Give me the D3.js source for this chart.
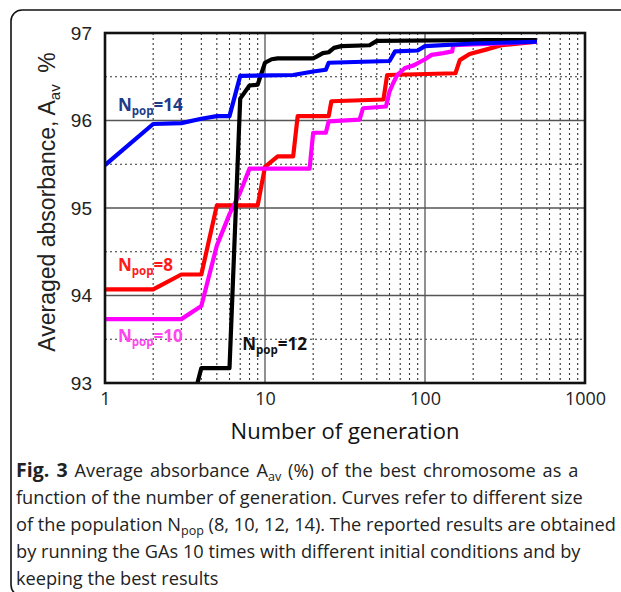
<!DOCTYPE html>
<html>
<head>
<meta charset="utf-8">
<script src="https://cdn.jsdelivr.net/npm/d3@7"></script>
<style>
  html, body { margin: 0; padding: 0; background: #fff; }
  svg { display: block; }
</style>
</head>
<body>
<svg id="chart" width="621" height="592"></svg>
<script>
// ---------------- data ----------------
const seriesNames = ["N8", "N10", "N12", "N14"];
const seriesColors = ["#ff0000", "#ff00ff", "#000000", "#0000ff"];

const genN8  = [1, 2, 3, 4, 5, 9, 10, 12, 15, 16, 25, 26, 55, 58, 155, 165, 190, 240, 300, 500];
const valN8  = [94.07, 94.07, 94.24, 94.24, 95.03, 95.03, 95.47, 95.59, 95.59, 96.05, 96.05, 96.22, 96.24, 96.52, 96.54, 96.69, 96.76, 96.81, 96.86, 96.90];

const genN10 = [1, 3, 4, 5, 6, 7, 8, 19, 20, 24, 25, 39, 41, 57, 60, 63, 67, 75, 85, 100, 110, 130, 148, 150, 200, 300, 500];
const valN10 = [93.73, 93.73, 93.88, 94.57, 94.93, 95.18, 95.45, 95.45, 95.86, 95.86, 95.99, 96.01, 96.14, 96.16, 96.33, 96.42, 96.52, 96.60, 96.63, 96.70, 96.75, 96.77, 96.79, 96.86, 96.87, 96.88, 96.90];

const genN12 = [3, 4, 6, 7, 8, 9, 10, 11, 12, 20, 21, 23, 25, 27, 30, 45, 50, 250, 500];
const valN12 = [92.30, 93.17, 93.17, 96.25, 96.40, 96.41, 96.66, 96.70, 96.71, 96.71, 96.73, 96.77, 96.78, 96.83, 96.85, 96.86, 96.91, 96.92, 96.92];

const genN14 = [1, 2, 3, 4, 5, 6, 7, 15, 20, 24, 25, 60, 65, 90, 100, 200, 500];
const valN14 = [95.49, 95.96, 95.97, 96.02, 96.05, 96.05, 96.51, 96.52, 96.56, 96.58, 96.66, 96.68, 96.79, 96.80, 96.85, 96.88, 96.90];

const xTickValues = [1, 10, 100, 1000];
const xTickLabels = ["1", "10", "100", "1000"];
const yTickValues = [93, 94, 95, 96, 97];
const yTickLabels = ["93", "94", "95", "96", "97"];
const xMinorGrid = [2,3,4,5,6,7,8,9,20,30,40,50,60,70,80,90,200,300,400,500,600,700,800,900];
const xMajorGrid = [10, 100];
const yMinorGrid = [93.5, 94.5, 95.5, 96.5];
const yMajorGrid = [94, 95, 96];

// in-plot labels: [prefix, subscript, suffix]
const labelText  = [["N", "pop", "=8"], ["N", "pop", "=10"], ["N", "pop", "=12"], ["N", "pop", "=14"]];
const labelColor = ["#ff1a1a", "#ff44f0", "#111111", "#1f3c88"];
const labelGen   = [1.205, 1.205, 7.2, 1.205];
const labelVal   = [94.28, 93.47, 93.38, 96.11];

const captionLines = [
  [["b", "Fig. 3"], ["r", " Average absorbance A"], ["s", "av"], ["r", " (%) of the best chromosome as a"]],
  [["r", "function of the number of generation. Curves refer to different size"]],
  [["r", "of the population N"], ["s", "pop"], ["r", " (8, 10, 12, 14). The reported results are obtained"]],
  [["r", "by running the GAs 10 times with different initial conditions and by"]],
  [["r", "keeping the best results"]]
];

// ---------------- layout ----------------
const svg = d3.select("#chart");
const L = 105, R = 585, T = 33, B = 383;

const x = d3.scaleLog().domain([1, 1000]).range([L, R]);
const y = d3.scaleLinear().domain([93, 97]).range([B, T]);

// frame
svg.append("rect")
  .attr("x", 11).attr("y", 10).attr("width", 700).attr("height", 586)
  .attr("rx", 11).attr("ry", 11)
  .attr("fill", "none").attr("stroke", "#111").attr("stroke-width", 1.6);

// clip
svg.append("defs").append("clipPath").attr("id", "plotclip")
  .append("rect").attr("x", L).attr("y", T).attr("width", R - L).attr("height", B - T);

const grid = svg.append("g");
grid.selectAll("line.xmin").data(xMinorGrid).join("line")
  .attr("x1", d => x(d)).attr("x2", d => x(d)).attr("y1", T).attr("y2", B)
  .attr("stroke", "#333").attr("stroke-width", 1.1).attr("stroke-dasharray", "2,3");
grid.selectAll("line.ymin").data(yMinorGrid).join("line")
  .attr("y1", d => y(d)).attr("y2", d => y(d)).attr("x1", L).attr("x2", R)
  .attr("stroke", "#333").attr("stroke-width", 1.1).attr("stroke-dasharray", "2,3");
grid.selectAll("line.xmaj").data(xMajorGrid).join("line")
  .attr("x1", d => x(d)).attr("x2", d => x(d)).attr("y1", T).attr("y2", B)
  .attr("stroke", "#555").attr("stroke-width", 1.3);
grid.selectAll("line.ymaj").data(yMajorGrid).join("line")
  .attr("y1", d => y(d)).attr("y2", d => y(d)).attr("x1", L).attr("x2", R)
  .attr("stroke", "#555").attr("stroke-width", 1.3);

// lines
const seriesGen = [genN8, genN10, genN12, genN14];
const seriesVal = [valN8, valN10, valN12, valN14];
const line = d3.line().x(d => x(d[0])).y(d => y(d[1]));
const lines = svg.append("g").attr("clip-path", "url(#plotclip)");
seriesNames.forEach((name, i) => {
  const pts = seriesGen[i].map((g, j) => [g, seriesVal[i][j]]);
  lines.append("path").datum(pts)
    .attr("d", line)
    .attr("fill", "none")
    .attr("stroke", seriesColors[i])
    .attr("stroke-width", 4.2)
    .attr("stroke-linejoin", "round");
});

// plot border
svg.append("rect").attr("x", L).attr("y", T).attr("width", R - L).attr("height", B - T)
  .attr("fill", "none").attr("stroke", "#111").attr("stroke-width", 2.6);

// axes (tick labels only)
const xAxis = d3.axisBottom(x).tickValues(xTickValues).tickFormat((d, i) => xTickLabels[i]).tickSize(0).tickPadding(6);
svg.append("g").attr("transform", `translate(0,${B + 3})`).call(xAxis)
  .call(g => g.select(".domain").remove())
  .selectAll("text").attr("font-family", "'Open Sans', sans-serif").attr("font-size", 18).attr("fill", "#222");

const yAxis = d3.axisLeft(y).tickValues(yTickValues).tickFormat((d, i) => yTickLabels[i]).tickSize(0).tickPadding(13);
svg.append("g").attr("transform", `translate(${L},0)`).call(yAxis)
  .call(g => g.select(".domain").remove())
  .selectAll("text").attr("font-family", "'Liberation Sans', Arial, sans-serif").attr("font-size", 19).attr("fill", "#222");

// axis titles
svg.append("text")
  .attr("x", (L + R) / 2).attr("y", 439)
  .attr("text-anchor", "middle")
  .attr("font-family", "'Open Sans', sans-serif").attr("font-size", 22).attr("fill", "#111")
  .text("Number of generation");

const yt = svg.append("text")
  .attr("transform", `translate(55, 202) rotate(-90)`)
  .attr("text-anchor", "middle")
  .attr("font-family", "'Liberation Sans', Arial, sans-serif").attr("font-size", 23).attr("fill", "#222");
yt.append("tspan").text("Averaged absorbance, A");
yt.append("tspan").attr("font-size", 15).attr("dy", 5).text("av");
yt.append("tspan").attr("dy", -5).text("\u2002%");

// in-plot labels
labelText.forEach((parts, i) => {
  const t = svg.append("text")
    .attr("x", x(labelGen[i])).attr("y", y(labelVal[i]))
    .attr("font-family", "'Open Sans', sans-serif").attr("font-weight", 700)
    .attr("font-size", 17).attr("fill", labelColor[i]);
  t.append("tspan").text(parts[0]);
  t.append("tspan").attr("font-size", 11.5).attr("dy", 4).text(parts[1]);
  t.append("tspan").attr("dy", -4).text(parts[2]);
});

// caption
const capTop = 477, capStep = 27;
captionLines.forEach((parts, i) => {
  const t = svg.append("text")
    .attr("x", 16).attr("y", capTop + i * capStep)
    .attr("font-family", "'Open Sans', sans-serif").attr("font-size", 18.2).attr("fill", "#222");
  if (i === 0) t.attr("word-spacing", 2.2);
  parts.forEach((p, j) => {
    const s = t.append("tspan").text(p[1]);
    if (p[0] === "b") s.attr("font-weight", 700).attr("font-size", 19.5);
    if (p[0] === "s") s.attr("font-size", 12.5).attr("dy", 4);
    if (j > 0 && parts[j - 1][0] === "s") s.attr("dy", -4);
  });
});
</script>
</body>
</html>
